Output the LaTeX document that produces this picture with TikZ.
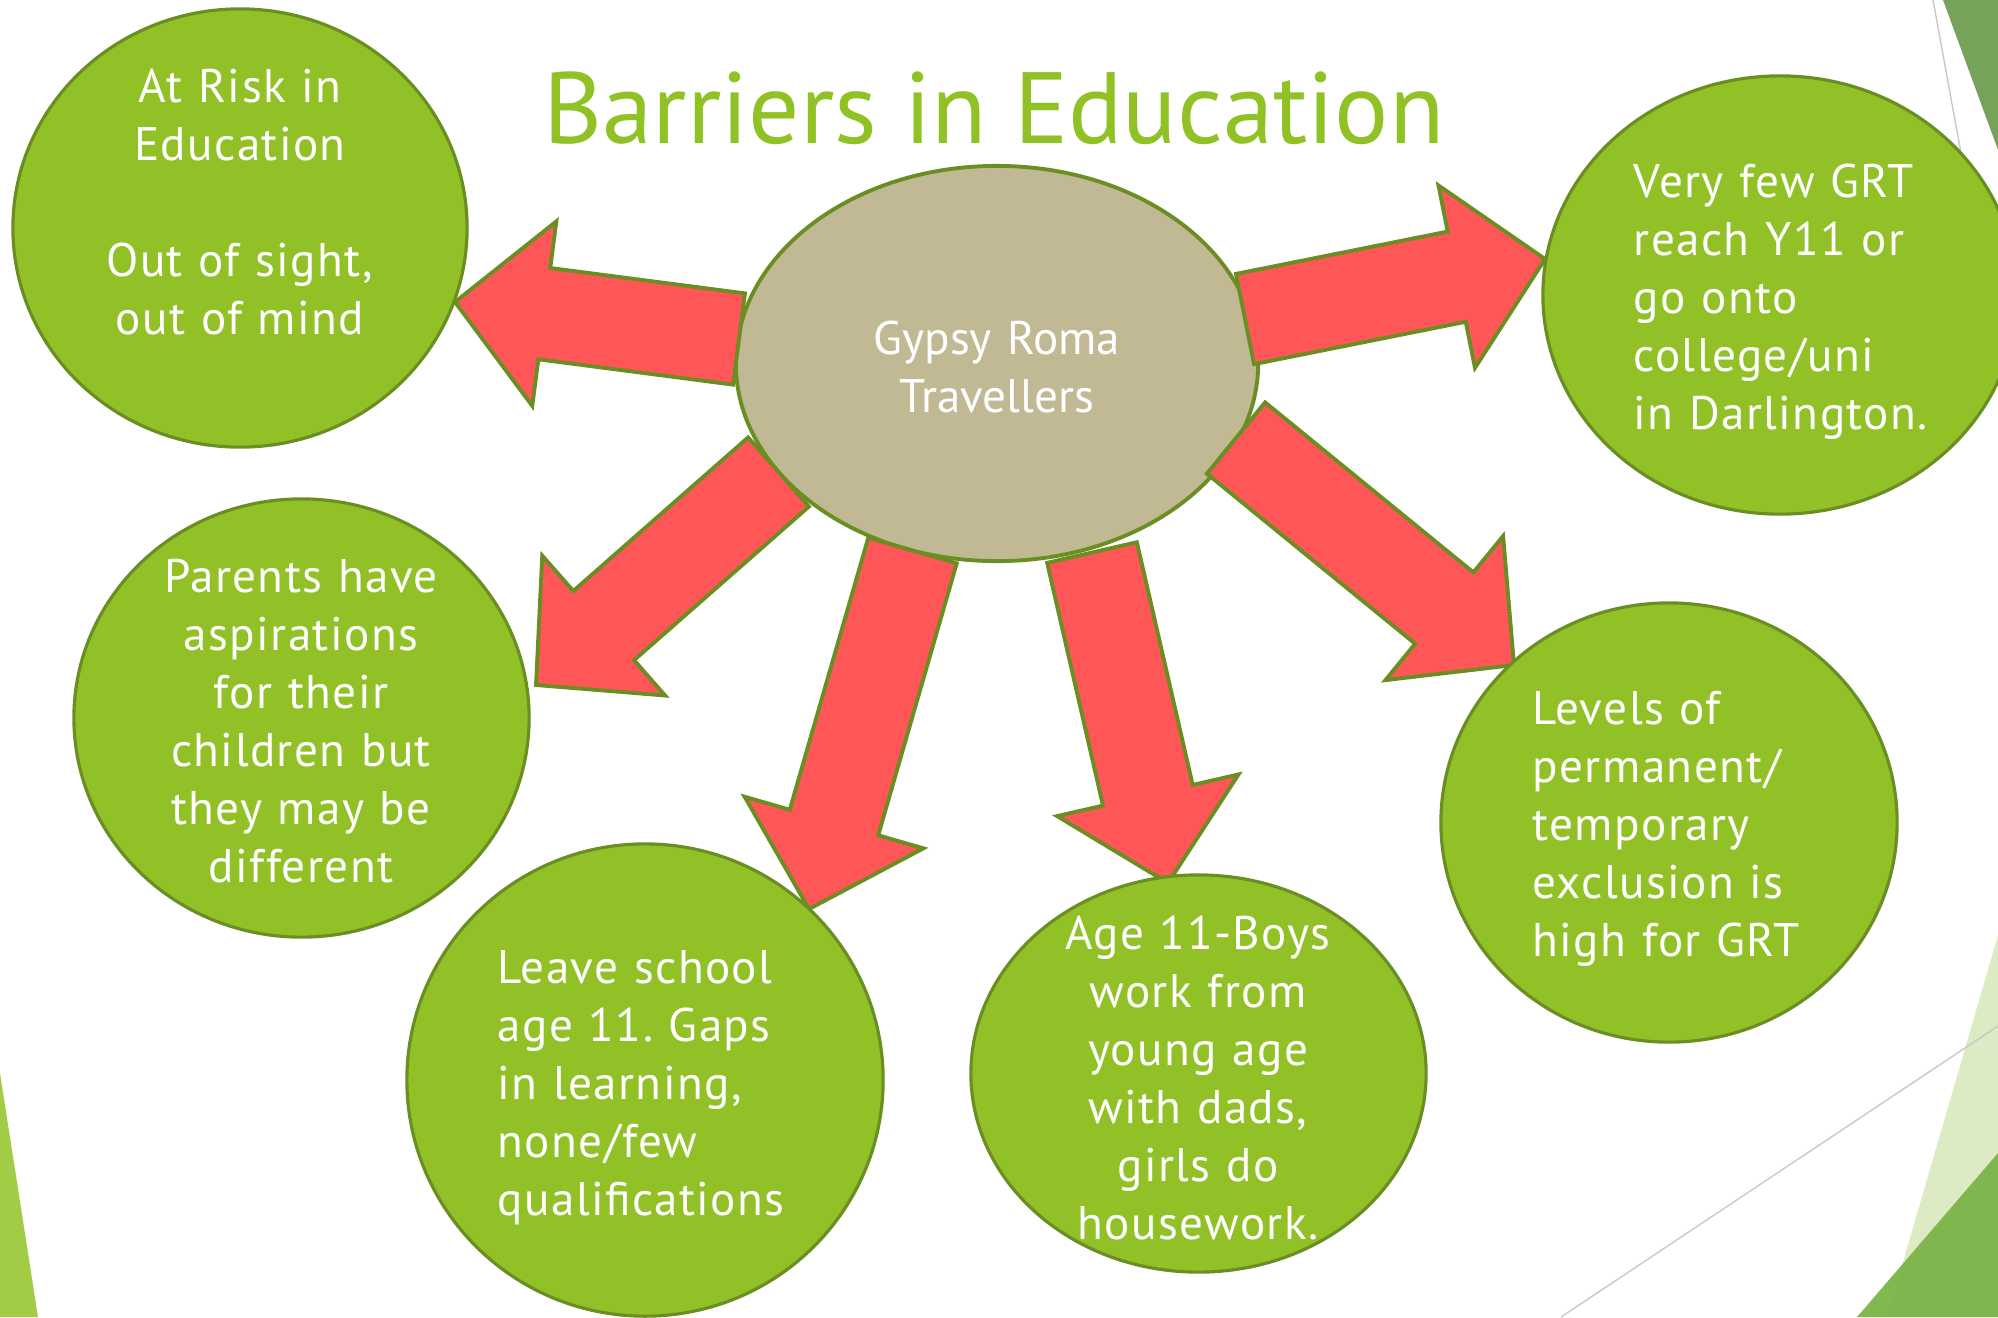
\documentclass[tikz,border=0pt]{standalone}
\usepackage{fontspec}
\setmainfont{PT Sans}
\newfontfamily\bubblefont{PT Sans}[LetterSpace=3]
\frenchspacing
\usetikzlibrary{calc,shapes.geometric}

\definecolor{leafgreen}{RGB}{145,193,39}
\definecolor{rimgreen}{RGB}{107,142,35}
\definecolor{arrowred}{RGB}{255,87,87}
\definecolor{hubsand}{RGB}{193,185,148}
\definecolor{titlegreen}{RGB}{144,194,38}
\definecolor{decotop}{RGB}{118,162,90}
\definecolor{decolight}{RGB}{221,235,196}
\definecolor{decodark}{RGB}{122,181,72}
\definecolor{decoleft}{RGB}{163,204,70}
\definecolor{decoline}{RGB}{200,200,200}

\tikzset{
	bubble/.style={ellipse, draw=rimgreen, line width=0.9pt, fill=leafgreen, inner sep=0pt},
	hub/.style={ellipse, draw=rimgreen, line width=1.1pt, fill=hubsand, inner sep=0pt},
	bubbletext/.style={text=white, inner sep=0pt, text width=4.2cm, font=\bubblefont\fontsize{13.4}{16.5}\selectfont},
	hubtext/.style={text=white, inner sep=0pt, text width=4.2cm, font=\fontsize{13.4}{16.5}\selectfont},
	redarrow/.style={fill=arrowred, draw=rimgreen, line width=1.1pt, line join=miter},
	titletext/.style={text=titlegreen, inner sep=0pt, font=\fontsize{28.8}{34}\selectfont}
}

\newcommand\blockarrow[2]{%
	\coordinate (hb) at ($(#2)!0.9cm!(#1)$);
	\draw[redarrow] ($(#1)!0.46cm!90:(#2)$) -- ($(hb)!0.46cm!90:(#2)$) -- ($(hb)!0.93cm!90:(#2)$)
		-- (#2) -- ($(hb)!0.93cm!-90:(#2)$) -- ($(hb)!0.46cm!-90:(#2)$) -- ($(#1)!0.46cm!-90:(#2)$) -- cycle;}

\begin{document}
\begin{tikzpicture}[x=0.01cm, y=-0.01cm]

	\useasboundingbox (0,0) rectangle (1998,1317);

	\fill[decolight] (1998,935) -- (1998,1317) -- (1887,1317) -- cycle;
	\fill[decodark, opacity=0.95] (1998,1153) -- (1998,1317) -- (1857,1317) -- cycle;
	\draw[decoline] (1998,1026) -- (1561,1317);
	\fill[decoleft] (0,1073) -- (38,1317) -- (0,1317) -- cycle;
	\fill[decotop] (1943,0) -- (1998,0) -- (1998,150) -- cycle;
	\draw[decoline] (1933,0) -- (1975,230);

	\node[titletext, anchor=base] (title) at (994,143) {Barriers in Education};

	\node[hub, minimum width=5.22cm, minimum height=3.95cm] (grt) at (997,363.5) {};

	\coordinate (risks) at (739,339);     \coordinate (riske) at (455,302);
	\coordinate (fews) at (1245,319);     \coordinate (fewe) at (1545,259);
	\coordinate (parents) at (778.5,472); \coordinate (parente) at (536,685);
	\coordinate (levels) at (1236,438);   \coordinate (levele) at (1514,665);
	\coordinate (leaves) at (912.5,550.5);\coordinate (leavee) at (809,909);
	\coordinate (boyss) at (1092,552.5);  \coordinate (boyse) at (1168,883);

	\blockarrow{risks}{riske}
	\blockarrow{fews}{fewe}
	\blockarrow{parents}{parente}
	\blockarrow{levels}{levele}
	\blockarrow{leaves}{leavee}
	\blockarrow{boyss}{boyse}

	\node[bubble, minimum width=4.54cm, minimum height=4.38cm] (risk) at (240,228) {};
	\node[bubble, minimum width=4.74cm, minimum height=4.38cm] (few) at (1780,295) {};
	\node[bubble, minimum width=4.55cm, minimum height=4.38cm] (parent) at (301.5,718) {};
	\node[bubble, minimum width=4.76cm, minimum height=4.72cm] (leave) at (645,1080) {};
	\node[bubble, minimum width=4.55cm, minimum height=3.97cm] (boys) at (1198.5,1073.5) {};
	\node[bubble, minimum width=4.56cm, minimum height=4.39cm] (level) at (1669,822.5) {};

	\node[hubtext, align=center, anchor=base] (grttxt) at (997,354) {Gypsy Roma\\Travellers};
	\node[bubbletext, align=center, anchor=base] (risktxt) at (240,102) {At Risk in\\Education\\\mbox{}\\Out of sight,\\out of mind};
	\node[bubbletext, align=left, anchor=base west] (fewtxt) at (1633,197) {Very few GRT\\reach Y11 or\\go onto\\college/uni\\in Darlington.};
	\node[bubbletext, align=center, anchor=base] (parenttxt) at (301,592) {Parents have\\aspirations\\for their\\children but\\they may be\\different};
	\node[bubbletext, align=left, anchor=base west] (leavetxt) at (497,983) {Leave school\\age 11. Gaps\\in learning,\\none/few\\qualifications};
	\node[bubbletext, align=center, anchor=base] (boystxt) at (1198,949) {Age 11-Boys\\work from\\young age\\with dads,\\girls do\\housework.};
	\node[bubbletext, align=left, anchor=base west] (leveltxt) at (1532,724) {Levels of\\permanent/\\temporary\\exclusion is\\high for GRT};

\end{tikzpicture}
\end{document}
